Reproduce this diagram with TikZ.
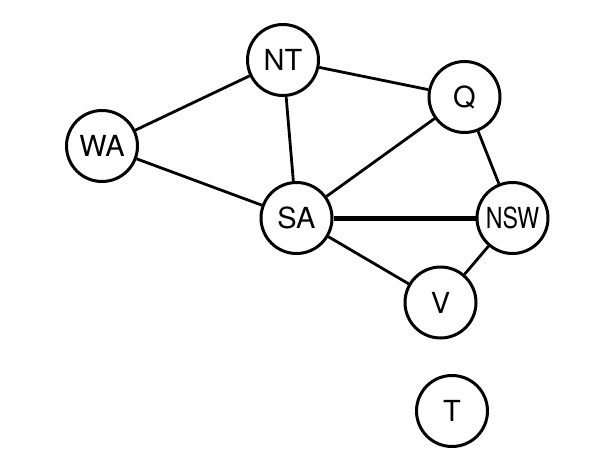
\documentclass[tikz,border=0pt]{standalone}
\usepackage{fontspec}
\setmainfont{TeX Gyre Heros}
\tikzset{
  st/.style={circle, draw, line width=3pt, minimum size=71pt, inner sep=0pt, font=\fontsize{29}{29}\selectfont},
  ed/.style={line width=2.8pt},
  thick edge/.style={line width=5pt}
}
\begin{document}
\begin{tikzpicture}[x=1pt,y=-1pt]
\useasboundingbox (0,0) rectangle (599,469);
\node[st] (NT) at (283,60) {NT};
\node[st] (WA) at (102,146) {WA};
\node[st] (Q) at (464.5,97) {Q};
\node[st] (SA) at (296.5,218) {SA};
\node[st] (NSW) at (512.5,218) {\scalebox{0.8}[1]{NSW}};
\node[st] (V) at (440.5,302.5) {V};
\node[st] (T) at (452,411) {T};
\draw[ed] (NT) -- (WA);
\draw[ed] (NT) -- (Q);
\draw[ed] (NT) -- (SA);
\draw[ed] (WA) -- (SA);
\draw[ed] (SA) -- (Q);
\draw[thick edge] (SA) -- (NSW);
\draw[ed] (SA) -- (V);
\draw[ed] (Q) -- (NSW);
\draw[ed] (NSW) -- (V);
\end{tikzpicture}
\end{document}
